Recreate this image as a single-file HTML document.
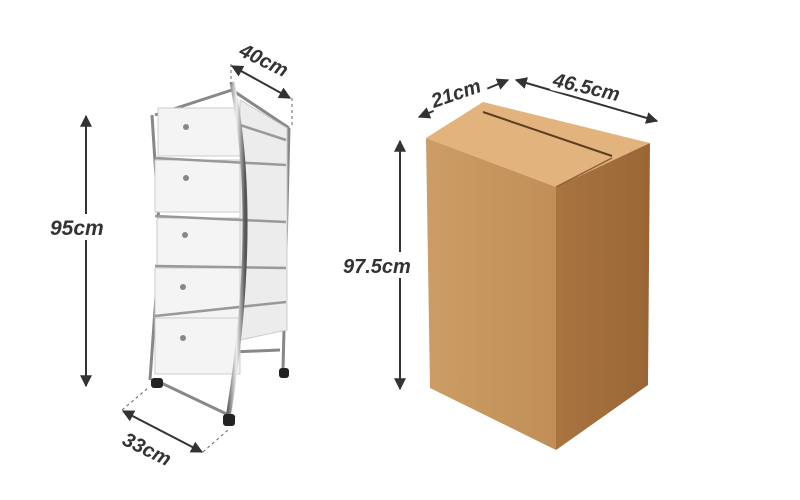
<!DOCTYPE html>
<html><head><meta charset="utf-8"><style>
html,body{margin:0;padding:0;background:#fff;}
svg{display:block}
text{font-family:"Liberation Sans",sans-serif;font-weight:bold;font-style:italic;fill:#333;}
</style></head><body>
<svg width="800" height="500" viewBox="0 0 800 500" xmlns="http://www.w3.org/2000/svg">
<defs>
<marker id="ah" viewBox="0 0 10 10" refX="9" refY="5" markerWidth="6" markerHeight="6" orient="auto-start-reverse"><path d="M0,0 L10,5 L0,10z" fill="#333"/></marker>
<linearGradient id="lf" x1="0" x2="1"><stop offset="0" stop-color="#cc9d66"/><stop offset="1" stop-color="#c18e57"/></linearGradient>
<linearGradient id="rf" x1="0" x2="1"><stop offset="0" stop-color="#a97440"/><stop offset="1" stop-color="#9a6636"/></linearGradient>
<linearGradient id="chrome" x1="0" x2="1"><stop offset="0" stop-color="#666"/><stop offset=".5" stop-color="#eee"/><stop offset="1" stop-color="#555"/></linearGradient>
</defs>
<line x1="86" y1="116" x2="86" y2="386" stroke="#333" stroke-width="2" marker-start="url(#ah)" marker-end="url(#ah)"/>
<rect x="48" y="214" width="66" height="26" fill="#fff"/>
<text x="50" y="235" font-size="21">95cm</text>
<g stroke="#888" stroke-width="3" fill="none">
<path d="M152 115 L160 240 L150 380"/>
<path d="M289 128 L283 370"/>
<path d="M155 115 L232 90 L289 128"/>
<path d="M155 380 L235 418"/>
<path d="M232 352 L280 350"/>
</g>
<g fill="#f4f4f4" stroke="#ccc" stroke-width="1">
<path d="M240 100 L287 128 L287 330 L240 340z" fill="#ececec"/>
<rect x="158" y="108" width="82" height="48"/>
<rect x="155" y="160" width="85" height="52"/>
<rect x="157" y="218" width="83" height="50"/>
<rect x="155" y="268" width="85" height="50"/>
<rect x="155" y="318" width="85" height="56"/>
</g>
<g stroke="#999" stroke-width="2.5">
<line x1="155" y1="158" x2="286" y2="165"/>
<line x1="155" y1="216" x2="286" y2="222"/>
<line x1="155" y1="266" x2="286" y2="268"/>
<line x1="155" y1="316" x2="286" y2="302"/>
<line x1="240" y1="125" x2="286" y2="140"/>
</g>
<path d="M232 82 Q260 220 228 418" stroke="url(#chrome)" stroke-width="5" fill="none"/>
<g fill="#888"><circle cx="186" cy="127" r="3"/><circle cx="186" cy="178" r="3"/><circle cx="185" cy="235" r="3"/><circle cx="183" cy="287" r="3"/><circle cx="183" cy="338" r="3"/></g>
<g fill="#222"><rect x="151" y="378" width="12" height="10" rx="3"/><rect x="223" y="414" width="12" height="12" rx="3"/><rect x="279" y="368" width="10" height="10" rx="3"/></g>
<g stroke="#666" stroke-dasharray="3,3" stroke-width="1"><line x1="231" y1="64" x2="231" y2="84"/><line x1="292" y1="98" x2="292" y2="128"/><line x1="122" y1="410" x2="148" y2="388"/><line x1="203" y1="452" x2="228" y2="430"/></g>
<line x1="232" y1="66" x2="290" y2="98" stroke="#333" stroke-width="2" marker-start="url(#ah)" marker-end="url(#ah)"/>
<text x="0" y="0" font-size="20" transform="translate(238 55) rotate(26)">40cm</text>
<line x1="123" y1="411" x2="202" y2="452" stroke="#333" stroke-width="2" marker-start="url(#ah)" marker-end="url(#ah)"/>
<text x="0" y="0" font-size="20" transform="translate(121 444) rotate(26)">33cm</text>
<polygon points="426,138 483,102 650,143 556,187" fill="#e3b37e"/>
<polygon points="426,138 556,187 556,450 430,388" fill="url(#lf)"/>
<polygon points="556,187 650,143 648,385 556,450" fill="url(#rf)"/>
<line x1="483" y1="112" x2="612" y2="156" stroke="#5a3d22" stroke-width="2"/>
<line x1="556" y1="187" x2="612" y2="158" stroke="#8a6038" stroke-width="1.5"/>
<line x1="400" y1="141" x2="400" y2="389" stroke="#333" stroke-width="2" marker-start="url(#ah)" marker-end="url(#ah)"/>
<rect x="342" y="252" width="80" height="26" fill="#fff"/>
<text x="343" y="273" font-size="20">97.5cm</text>
<line x1="419" y1="117" x2="508" y2="80" stroke="#333" stroke-width="2" marker-start="url(#ah)" marker-end="url(#ah)"/>
<line x1="516" y1="80" x2="657" y2="121" stroke="#333" stroke-width="2" marker-start="url(#ah)" marker-end="url(#ah)"/>
<rect x="0" y="-18" width="58" height="22" fill="#fff" transform="translate(433 109) rotate(-19)"/>
<text x="0" y="0" font-size="20" transform="translate(434 108) rotate(-19)">21cm</text>
<rect x="0" y="-18" width="82" height="22" fill="#fff" transform="translate(551 86) rotate(13)"/>
<text x="0" y="0" font-size="20" transform="translate(552 86) rotate(13)">46.5cm</text>
</svg>
</body></html>
